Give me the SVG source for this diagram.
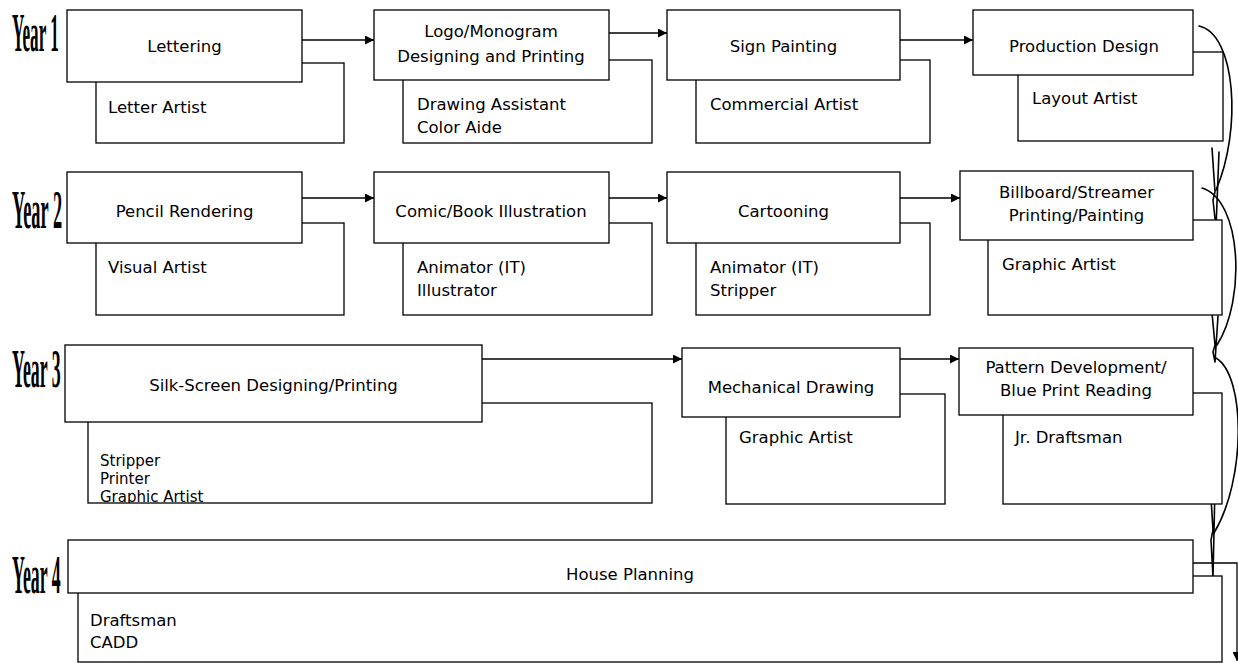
<svg xmlns="http://www.w3.org/2000/svg" width="1238" height="663" viewBox="0 0 1238 663">
<style>
.bx{fill:#fff;stroke:#000;stroke-width:1.3}
.t{font-family:"DejaVu Sans",Verdana,sans-serif;font-size:16.5px;fill:#000}
.s{font-size:15px}
.c{text-anchor:middle}
.yr{font-family:"Liberation Serif","Times New Roman",serif;font-weight:bold;font-size:54px;fill:#000}
.ln{fill:none;stroke:#000;stroke-width:1.3}
.hd{fill:none;stroke:#000;stroke-width:1.6;stroke-linecap:round}
</style>
<defs>
<marker id="ah" viewBox="0 0 10 10" refX="10" refY="5" markerWidth="9" markerHeight="9" markerUnits="userSpaceOnUse" orient="auto">
<path d="M0,0 L10,5 L0,10 z" fill="#000"/>
</marker>
<clipPath id="silkclip"><rect x="88" y="403" width="564" height="100"/></clipPath>
</defs>
<rect width="1238" height="663" fill="#fff"/>

<g id="year-labels">
<text class="yr" transform="translate(12,51) scale(0.318,1)">Year 1</text>
<text class="yr" transform="translate(12,228) scale(0.34,1)">Year 2</text>
<text class="yr" transform="translate(12,387) scale(0.33,1)">Year 3</text>
<text class="yr" transform="translate(12,593) scale(0.33,1)">Year 4</text>
</g>

<g id="connectors">
<line class="ln" x1="302" y1="40" x2="374" y2="40" marker-end="url(#ah)"/>
<line class="ln" x1="609" y1="33" x2="667" y2="33" marker-end="url(#ah)"/>
<line class="ln" x1="900" y1="40" x2="973" y2="40" marker-end="url(#ah)"/>
<line class="ln" x1="302" y1="198" x2="374" y2="198" marker-end="url(#ah)"/>
<line class="ln" x1="609" y1="198" x2="667" y2="198" marker-end="url(#ah)"/>
<line class="ln" x1="900" y1="198" x2="960" y2="198" marker-end="url(#ah)"/>
<line class="ln" x1="482" y1="359" x2="682" y2="359" marker-end="url(#ah)"/>
<line class="ln" x1="900" y1="359" x2="959" y2="359" marker-end="url(#ah)"/>
<path class="hd" d="M1199,26 C1236,34 1242,130 1216,190"/>
<path class="hd" d="M1212,148 L1215,192 L1213,200 L1216,228 M1219,152 L1216,228"/>
<path class="hd" d="M1202,188 C1242,200 1246,300 1217,345"/>
<path class="hd" d="M1212,313 L1215,345 L1213,352 L1215,362 M1218,316 L1215,362"/>
<path class="hd" d="M1216,358 C1246,376 1246,480 1214,533"/>
<path class="hd" d="M1210,482 L1213,530 L1211,540 L1213,577 M1215,486 L1213,577"/>
<polyline class="ln" points="1193,563 1237,563 1237,661" marker-end="url(#ah)"/>
</g>

<g id="lettering">
<rect class="bx" x="96" y="63" width="248" height="80"/>
<rect class="bx" x="67" y="10" width="235" height="72"/>
<text class="t c" x="184.5" y="52">Lettering</text>
<text class="t" x="108" y="113">Letter Artist</text>
</g>
<g id="logo">
<rect class="bx" x="403" y="60" width="249" height="83"/>
<rect class="bx" x="374" y="10" width="235" height="70"/>
<text class="t c" x="491" y="37">Logo/Monogram</text>
<text class="t c" x="491" y="62">Designing and Printing</text>
<text class="t" x="417" y="110">Drawing Assistant</text>
<text class="t" x="417" y="133">Color Aide</text>
</g>
<g id="sign-painting">
<rect class="bx" x="696" y="60" width="234" height="83"/>
<rect class="bx" x="667" y="10" width="233" height="70"/>
<text class="t c" x="783.5" y="52">Sign Painting</text>
<text class="t" x="710" y="110">Commercial Artist</text>
</g>
<g id="production-design">
<rect class="bx" x="1018" y="52" width="205" height="89"/>
<rect class="bx" x="973" y="10" width="220" height="65"/>
<text class="t c" x="1084" y="52">Production Design</text>
<text class="t" x="1032" y="104">Layout Artist</text>
</g>

<g id="pencil-rendering">
<rect class="bx" x="96" y="223" width="248" height="92"/>
<rect class="bx" x="67" y="172" width="235" height="71"/>
<text class="t c" x="184.5" y="217">Pencil Rendering</text>
<text class="t" x="108" y="273">Visual Artist</text>
</g>
<g id="comic-book">
<rect class="bx" x="403" y="223" width="249" height="92"/>
<rect class="bx" x="374" y="172" width="235" height="71"/>
<text class="t c" x="491" y="217">Comic/Book Illustration</text>
<text class="t" x="417" y="273">Animator (IT)</text>
<text class="t" x="417" y="296">Illustrator</text>
</g>
<g id="cartooning">
<rect class="bx" x="696" y="223" width="234" height="92"/>
<rect class="bx" x="667" y="172" width="233" height="71"/>
<text class="t c" x="783.5" y="217">Cartooning</text>
<text class="t" x="710" y="273">Animator (IT)</text>
<text class="t" x="710" y="296">Stripper</text>
</g>
<g id="billboard">
<rect class="bx" x="988" y="220" width="234" height="95"/>
<rect class="bx" x="960" y="171" width="233" height="69"/>
<text class="t c" x="1076.5" y="198">Billboard/Streamer</text>
<text class="t c" x="1076.5" y="221">Printing/Painting</text>
<text class="t" x="1002" y="270">Graphic Artist</text>
</g>

<g id="silk-screen">
<rect class="bx" x="88" y="403" width="564" height="100"/>
<rect class="bx" x="65" y="345" width="417" height="77"/>
<text class="t c" x="273.5" y="391">Silk-Screen Designing/Printing</text>
<g clip-path="url(#silkclip)">
<text class="t s" x="100" y="466">Stripper</text>
<text class="t s" x="100" y="484">Printer</text>
<text class="t s" x="100" y="502">Graphic Artist</text>
</g>
</g>
<g id="mechanical-drawing">
<rect class="bx" x="726" y="394" width="219" height="110"/>
<rect class="bx" x="682" y="348" width="218" height="69"/>
<text class="t c" x="791" y="393">Mechanical Drawing</text>
<text class="t" x="739" y="443">Graphic Artist</text>
</g>
<g id="pattern-development">
<rect class="bx" x="1003" y="393" width="219" height="111"/>
<rect class="bx" x="959" y="348" width="234" height="67"/>
<text class="t c" x="1076" y="373">Pattern Development/</text>
<text class="t c" x="1076" y="396">Blue Print Reading</text>
<text class="t" x="1015" y="443">Jr. Draftsman</text>
</g>

<g id="house-planning">
<rect class="bx" x="78" y="576" width="1144" height="86"/>
<rect class="bx" x="68" y="540" width="1125" height="53"/>
<text class="t c" x="630" y="580">House Planning</text>
<text class="t" x="90" y="626">Draftsman</text>
<text class="t" x="90" y="648">CADD</text>
</g>
</svg>
